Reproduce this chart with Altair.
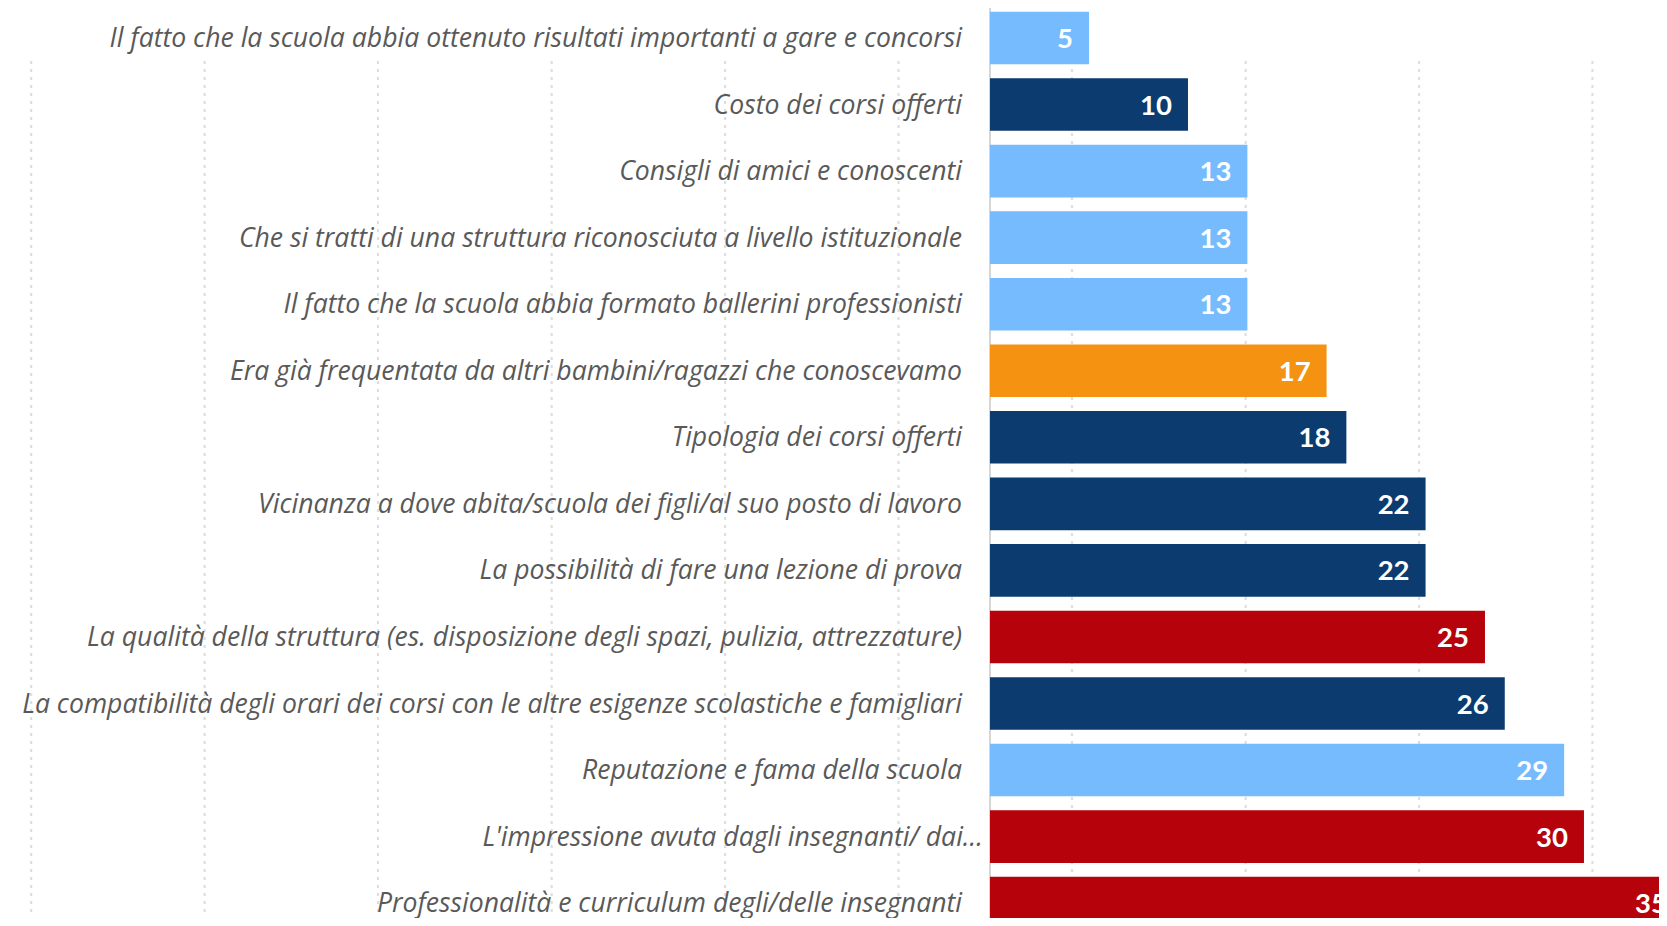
import altair as alt
import pandas as pd

labels = [
    "Il fatto che la scuola abbia ottenuto risultati importanti a gare e concorsi",
    "Costo dei corsi offerti",
    "Consigli di amici e conoscenti",
    "Che si tratti di una struttura riconosciuta a livello istituzionale",
    "Il fatto che la scuola abbia formato ballerini professionisti",
    "Era già frequentata da altri bambini/ragazzi che conoscevamo",
    "Tipologia dei corsi offerti",
    "Vicinanza a dove abita/scuola dei figli/al suo posto di lavoro",
    "La possibilità di fare una lezione di prova",
    "La qualità della struttura (es. disposizione degli spazi, pulizia, attrezzature)",
    "La compatibilità degli orari dei corsi con le altre esigenze scolastiche e famigliari",
    "Reputazione e fama della scuola",
    "L'impressione avuta dagli insegnanti/ dai…",
    "Professionalità e curriculum degli/delle insegnanti",
]
values = [5, 10, 13, 13, 13, 17, 18, 22, 22, 25, 26, 29, 30, 35]
groups = ["celeste", "blu", "celeste", "celeste", "celeste", "arancio", "blu",
          "blu", "blu", "rosso", "blu", "celeste", "rosso", "rosso"]

group_names = ["celeste", "blu", "arancio", "rosso"]
group_colors = ["#75BBFD", "#0B3B6F", "#F59211", "#B5020B"]

# decorative dotted gridlines (tick positions in value units)
grid_values = [-48.43, -39.67, -30.91, -22.14, -13.38, -4.62, 4.14, 12.91, 21.67, 30.43]

df = pd.DataFrame({
    "label": labels,
    "value": values,
    "group": groups,
    "row": list(range(len(labels))),
})
grid_df = pd.DataFrame({"g": grid_values})
axis_df = pd.DataFrame({"a": [0]})

W, H = 1651, 910
xs = alt.Scale(domain=[-49.6, 33.79], nice=False, zero=False)
ys = alt.Scale(domain=[-0.4508, (H - 30) / 66.55], nice=False, zero=False, reverse=True)

grid = alt.Chart(grid_df).transform_calculate(
    gy0="0.3456", gy1="13.178"
).mark_rule(
    color="#DEDEDE", strokeWidth=2.2, strokeDash=[3, 5], clip=True
).encode(
    x=alt.X("g:Q", scale=xs, axis=None),
    y=alt.Y("gy0:Q", scale=ys, axis=None),
    y2="gy1:Q",
)

axis_line = alt.Chart(axis_df).transform_calculate(
    ay0="-0.45", ay1="13.5"
).mark_rule(color="#D6D6D6", strokeWidth=2, clip=True).encode(
    x=alt.X("a:Q", scale=xs, axis=None),
    y=alt.Y("ay0:Q", scale=ys, axis=None),
    y2="ay1:Q",
)

bars = alt.Chart(df).transform_calculate(
    y0="datum.row - 0.395", y1="datum.row + 0.395", x0="0"
).mark_bar(clip=True).encode(
    x=alt.X("value:Q", scale=xs, axis=None),
    x2="x0:Q",
    y=alt.Y("y0:Q", scale=ys, axis=None),
    y2="y1:Q",
    color=alt.Color("group:N", scale=alt.Scale(domain=group_names, range=group_colors), legend=None),
)

value_text = alt.Chart(df).mark_text(
    align="right", baseline="middle", dx=-16, dy=2, font="Lato", fontWeight="bold",
    fontSize=27.5, color="white", clip=True
).encode(
    x=alt.X("value:Q", scale=xs, axis=None),
    y=alt.Y("row:Q", scale=ys, axis=None),
    text="value:Q",
)

label_text = alt.Chart(df).transform_calculate(
    lx="indexof(datum.label, '…') >= 0 ? -0.354 : -1.414"
).mark_text(
    align="right", baseline="middle", dy=1, font="Open Sans", fontStyle="italic",
    fontSize=26.6, color="#595959", clip=True
).encode(
    x=alt.X("lx:Q", scale=xs, axis=None),
    y=alt.Y("row:Q", scale=ys, axis=None),
    text="label:N",
)

chart = alt.layer(grid, axis_line, bars, value_text, label_text).properties(
    width=W, height=H, padding=0
).configure_view(strokeWidth=0)

chart.save("out.html", embed_options={"renderer": "svg", "actions": False})
